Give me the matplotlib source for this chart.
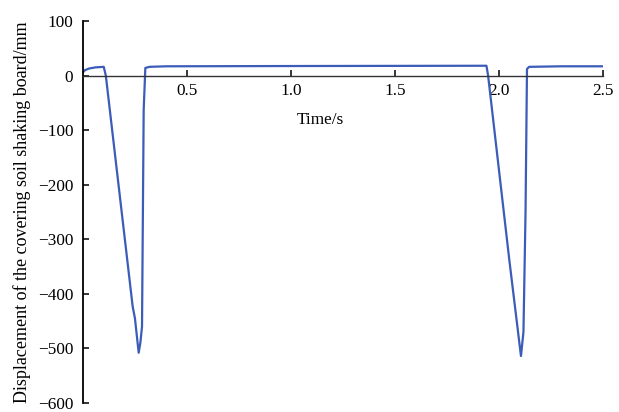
import matplotlib
matplotlib.use('Agg')
import matplotlib.pyplot as plt
import numpy as np

# time (s) and displacement (mm)
time_s = [0.0, 0.01, 0.03, 0.06, 0.10, 0.11, 0.239, 0.25, 0.268, 0.276, 0.284,
          0.292, 0.300, 0.32, 0.40, 1.00, 1.94, 1.948, 2.05, 2.085, 2.106,
          2.118, 2.128, 2.135, 2.145, 2.30, 2.5]
disp_mm = [6, 10, 13, 15, 16, 0, -423, -445, -508, -490, -460,
           -63, 14, 16, 17, 17.5, 18, 0, -338, -448, -514,
           -470, -250, 12, 16, 17, 17]

xticks = [0.5, 1.0, 1.5, 2.0, 2.5]
xticklabels = ['0.5', '1.0', '1.5', '2.0', '2.5']
yticks = [100, 0, -100, -200, -300, -400, -500, -600]

plt.rcParams['font.family'] = ['Liberation Serif', 'DejaVu Serif']

fig = plt.figure(figsize=(6.19, 4.12), dpi=100)
ax = fig.add_axes([0.134, 0.022, 0.840, 0.927])

ax.plot(time_s, disp_mm, color='#3b5cb8', linewidth=1.6)

ax.set_xlim(0, 2.5)
ax.set_ylim(-600, 100)

ax.spines['top'].set_visible(False)
ax.spines['right'].set_visible(False)
ax.spines['bottom'].set_position(('data', 0))
ax.spines['left'].set_linewidth(1.3)
ax.spines['bottom'].set_linewidth(1.0)
ax.spines['bottom'].set_color('#333333')

ax.set_xticks(xticks)
ax.set_xticklabels(xticklabels)
ax.set_yticks(yticks)
ax.tick_params(axis='both', direction='in', labelsize=12.4, length=4, width=1.1)
ax.tick_params(axis='y', pad=7)
ax.tick_params(axis='x', pad=5)

ax.set_xlabel('Time/s', fontsize=12.4)
ax.xaxis.set_label_coords(0.456, 0.762)
ax.set_ylabel('Displacement of the covering soil shaking board/mm', fontsize=13)
ax.yaxis.set_label_coords(-0.099, 0.5)

fig.savefig('out.png', dpi=100)
